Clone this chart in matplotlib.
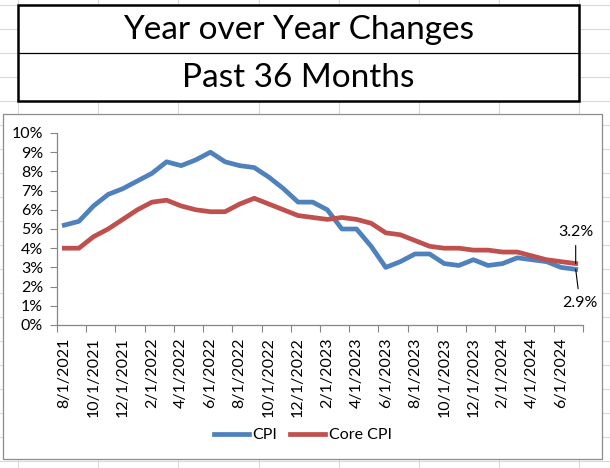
import matplotlib.pyplot as plt
from matplotlib.patches import Rectangle
from matplotlib.ticker import FuncFormatter

plt.rcParams['font.family'] = ['Lato', 'DejaVu Sans']

# year-over-year change, percent
months = ['8/1/2021', '9/1/2021', '10/1/2021', '11/1/2021', '12/1/2021',
          '1/1/2022', '2/1/2022', '3/1/2022', '4/1/2022', '5/1/2022', '6/1/2022',
          '7/1/2022', '8/1/2022', '9/1/2022', '10/1/2022', '11/1/2022', '12/1/2022',
          '1/1/2023', '2/1/2023', '3/1/2023', '4/1/2023', '5/1/2023', '6/1/2023',
          '7/1/2023', '8/1/2023', '9/1/2023', '10/1/2023', '11/1/2023', '12/1/2023',
          '1/1/2024', '2/1/2024', '3/1/2024', '4/1/2024', '5/1/2024', '6/1/2024',
          '7/1/2024']
cpi = [5.2, 5.4, 6.2, 6.8, 7.1, 7.5, 7.9, 8.5, 8.3, 8.6, 9.0, 8.5,
       8.3, 8.2, 7.7, 7.1, 6.4, 6.4, 6.0, 5.0, 5.0, 4.1, 3.0, 3.3,
       3.7, 3.7, 3.2, 3.1, 3.4, 3.1, 3.2, 3.5, 3.4, 3.3, 3.0, 2.9]
core_cpi = [4.0, 4.0, 4.6, 5.0, 5.5, 6.0, 6.4, 6.5, 6.2, 6.0, 5.9, 5.9,
            6.3, 6.6, 6.3, 6.0, 5.7, 5.6, 5.5, 5.6, 5.5, 5.3, 4.8, 4.7,
            4.4, 4.1, 4.0, 4.0, 3.9, 3.9, 3.8, 3.8, 3.6, 3.4, 3.3, 3.2]
title_lines = ['Year over Year Changes', 'Past 36 Months']

W, H = 610, 468
fig = plt.figure(figsize=(W / 100, H / 100), dpi=100)

# spreadsheet background in pixel coordinates
bg = fig.add_axes([0, 0, 1, 1], zorder=0)
bg.set_xlim(0, W)
bg.set_ylim(H, 0)
bg.axis('off')
for k in range(-1, 9):
    bg.axvline(18 + 80.2 * k, color='#d9d9d9', lw=0.8)
for k in range(0, 20):
    bg.axhline(5 + 24 * k, color='#d9d9d9', lw=0.8)

# title box
bg.add_patch(Rectangle((18, 5), 561, 96, fc='white', ec='black', lw=1.8, zorder=3))
bg.plot([18, 579], [53, 53], color='black', lw=0.9, zorder=4)
bg.text(298.5, 30, title_lines[0], ha='center', va='center', fontsize=24, zorder=5)
bg.text(298.5, 78, title_lines[1], ha='center', va='center', fontsize=24, zorder=5)

# chart area
bg.add_patch(Rectangle((3, 114), 599, 345, fc='white', ec='#8c8c8c', lw=0.9, zorder=3))

ax = fig.add_axes([57 / W, 1 - 325 / H, (583 - 57) / W, (325 - 133) / H], zorder=2)
ax.patch.set_alpha(0)
x = list(range(len(months)))
ax.plot(x, cpi, color='#4f81bd', lw=3.4, label='CPI', solid_joinstyle='round')
ax.plot(x, core_cpi, color='#c0504d', lw=3.4, label='Core CPI', solid_joinstyle='round')

ax.set_xlim(-0.5, len(months) - 0.5)
ax.set_ylim(0, 10)
ax.set_yticks(range(0, 11))
ax.yaxis.set_major_formatter(FuncFormatter(lambda v, p: f'{v:.0f}%'))
ax.set_xticks([i - 0.5 for i in range(0, len(months) + 1, 2)])
ax.set_xticklabels([])
ax.set_xticks(x[::2], minor=True)
ax.set_xticklabels(months[::2], minor=True, rotation=90)
ax.tick_params(axis='x', which='minor', length=0, pad=9, labelsize=11.5)
ax.tick_params(axis='x', which='major', length=5, color='#868686', direction='out')
ax.tick_params(axis='y', length=5, color='#868686', pad=5, labelsize=11.5)
for s in ['top', 'right']:
    ax.spines[s].set_visible(False)
for s in ['left', 'bottom']:
    ax.spines[s].set_color('#868686')
    ax.spines[s].set_linewidth(0.9)

# end labels
ax.annotate(f'{core_cpi[-1]:.1f}%', xy=(x[-1], core_cpi[-1]), xytext=(0, 23),
            textcoords='offset points', ha='center', va='center', fontsize=11.5,
            arrowprops=dict(arrowstyle='-', color='black', lw=0.8, shrinkA=3, shrinkB=0))
ax.annotate(f'{cpi[-1]:.1f}%', xy=(x[-1], cpi[-1]), xytext=(3, -24),
            textcoords='offset points', ha='center', va='center', fontsize=11.5,
            arrowprops=dict(arrowstyle='-', color='black', lw=0.8, shrinkA=3, shrinkB=0))

fig.legend(loc='center', bbox_to_anchor=(303 / W, 1 - 435 / H), ncol=2, frameon=False,
           fontsize=11.5, handlelength=2.2, handletextpad=0.2, columnspacing=0.8)

fig.savefig('out.png', dpi=100)
